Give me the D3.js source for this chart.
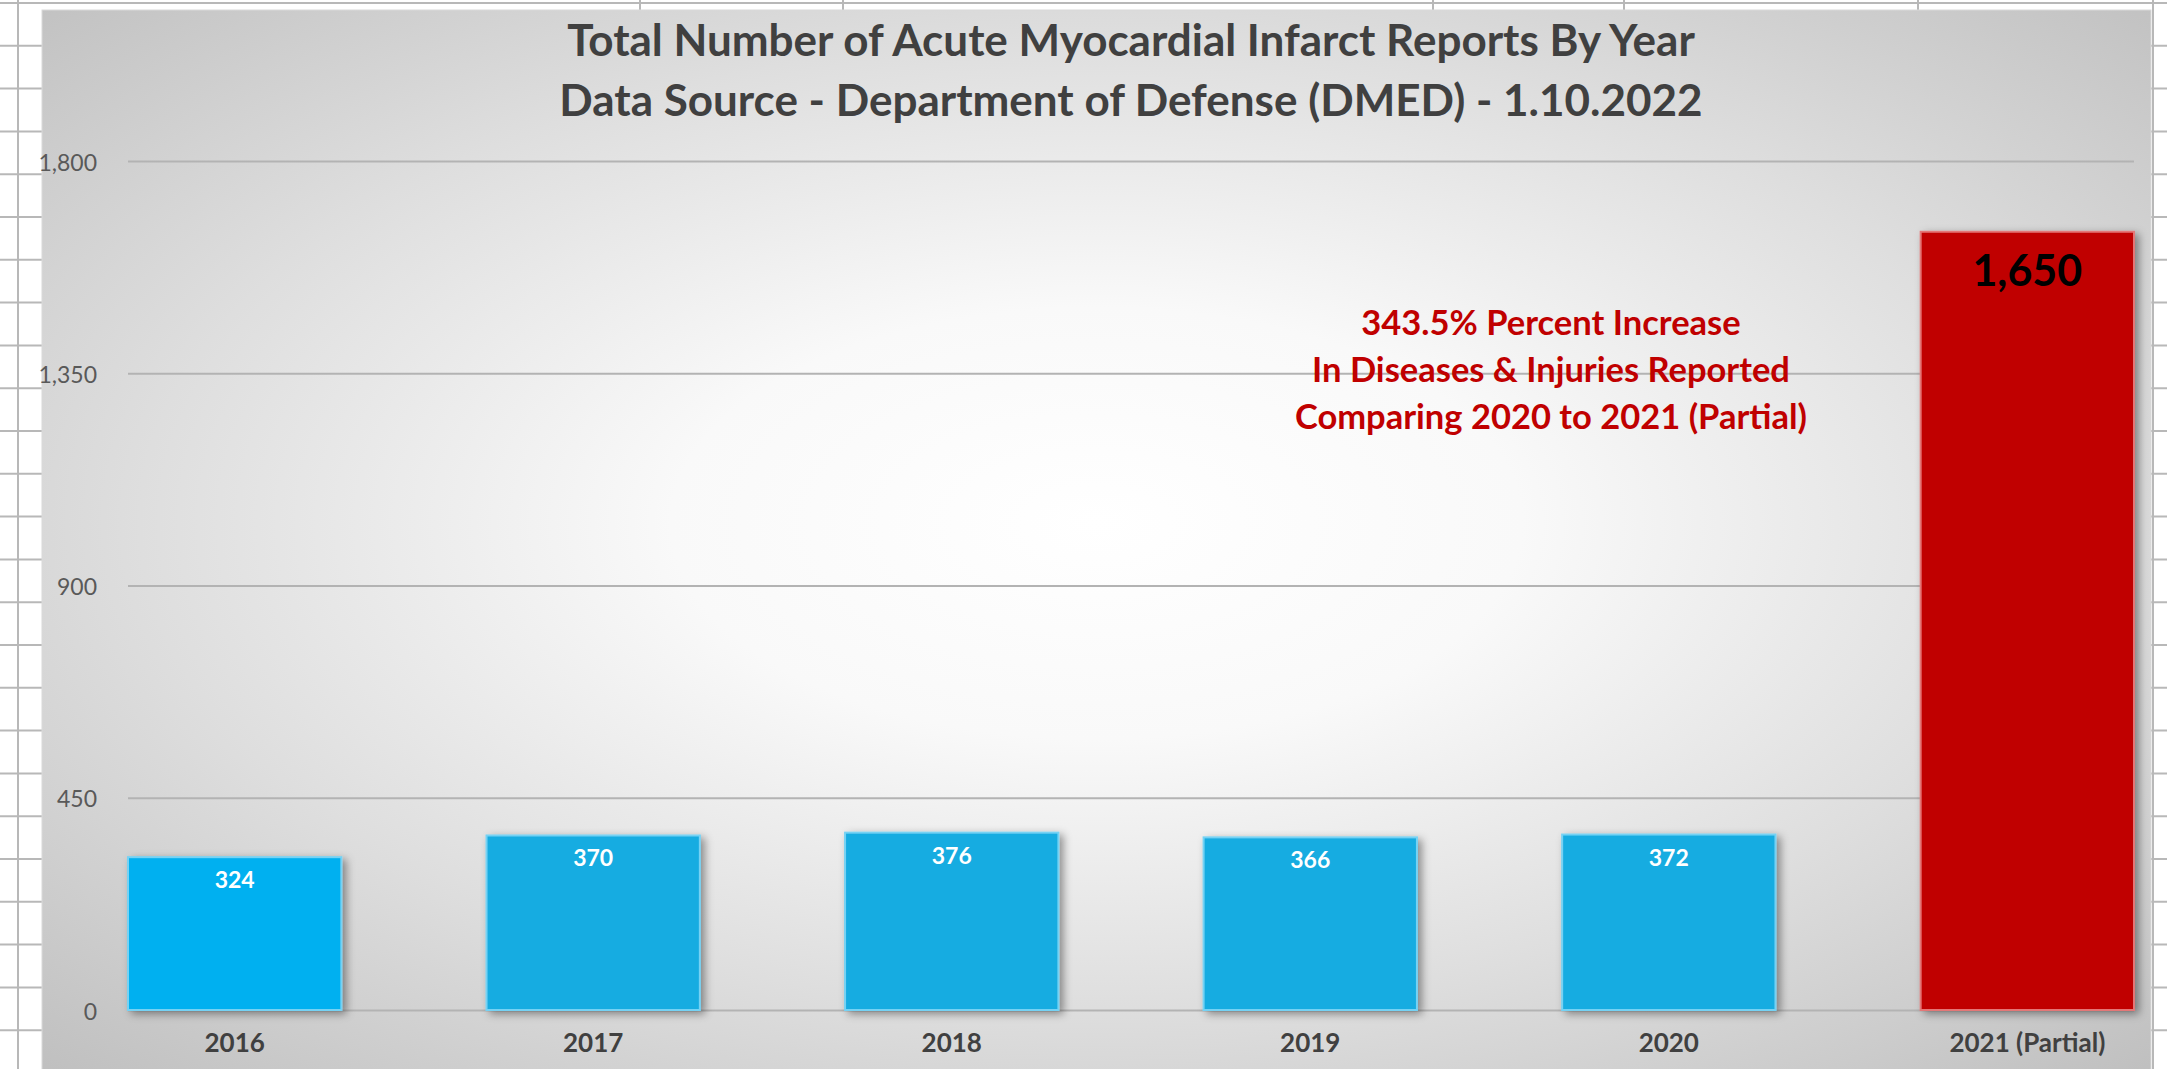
<!DOCTYPE html>
<html>
<head>
    <title>Total Number of Acute Myocardial Infarct Reports By Year</title>
    <script src="https://d3js.org/d3.v7.min.js"></script>
    <style>
        body { margin: 0; background: #ffffff; }
        svg { display: block; font-family: Lato, "Open Sans", sans-serif; }
        .title { fill: #404040; font-size: 44px; font-weight: bold; text-anchor: middle; }
        .note { fill: #C00000; font-size: 34.5px; font-weight: bold; text-anchor: middle; }
        .y-axis text { fill: #595959; font-size: 23px; }
        .cat-label { fill: #404040; font-size: 26px; font-weight: bold; text-anchor: middle; }
        .val-label { fill: #ffffff; font-size: 23px; font-weight: bold; text-anchor: middle; }
    </style>
</head>
<body>
    <svg id="chart"></svg>

    <script>
        // Data
        var years = ["2016", "2017", "2018", "2019", "2020", "2021 (Partial)"];
        var reports = [324, 370, 376, 366, 372, 1650];
        var yTicks = [0, 450, 900, 1350, 1800];
        var titleLines = [
            "Total Number of Acute Myocardial Infarct Reports By Year",
            "Data Source - Department of Defense (DMED) - 1.10.2022"
        ];
        var noteLines = [
            "343.5% Percent Increase",
            "In Diseases & Injuries Reported",
            "Comparing 2020 to 2021 (Partial)"
        ];

        // spreadsheet behind the chart
        var sheetCols = [18, 640, 843, 1433, 1624, 1918, 2153];
        var rowHeight = 42.8;

        var W = 2167, H = 1069;
        var plot = { left: 128, right: 2134, top: 161, bottom: 1010 };

        var svg = d3.select('#chart')
            .attr('width', W)
            .attr('height', H);

        var defs = svg.append('defs');

        // radial background like the Excel preset
        var grad = defs.append('radialGradient')
            .attr('id', 'bg')
            .attr('cx', 0.5).attr('cy', 0.48).attr('r', 0.72);
        grad.append('stop').attr('offset', 0).attr('stop-color', '#ffffff');
        grad.append('stop').attr('offset', 0.28).attr('stop-color', '#f9f9f9');
        grad.append('stop').attr('offset', 0.63).attr('stop-color', '#dedede');
        grad.append('stop').attr('offset', 1).attr('stop-color', '#bfbfbf');

        var shadow = defs.append('filter')
            .attr('id', 'shadow')
            .attr('x', '-10%').attr('y', '-10%')
            .attr('width', '130%').attr('height', '130%');
        shadow.append('feDropShadow')
            .attr('dx', 4).attr('dy', 3)
            .attr('stdDeviation', 4)
            .attr('flood-color', '#000')
            .attr('flood-opacity', 0.4);

        // sheet grid lines
        var grid = svg.append('g').attr('stroke', '#b8b8b8').attr('stroke-width', 2);
        grid.selectAll('.row')
            .data(d3.range(0, 26))
            .enter().append('line')
            .attr('x1', 0).attr('x2', W)
            .attr('y1', d => 3 + d * rowHeight)
            .attr('y2', d => 3 + d * rowHeight);
        grid.selectAll('.col')
            .data(sheetCols)
            .enter().append('line')
            .attr('x1', d => d).attr('x2', d => d)
            .attr('y1', 0).attr('y2', H);

        // chart area
        svg.append('rect')
            .attr('x', 42).attr('y', 10)
            .attr('width', 2151 - 42).attr('height', H)
            .attr('fill', 'url(#bg)')
            .attr('stroke', '#d9d9d9')
            .attr('stroke-width', 1);

        // scales
        var x = d3.scaleBand()
            .domain(years)
            .range([plot.left, plot.right])
            .paddingInner(0.405)
            .paddingOuter(0);

        var y = d3.scaleLinear()
            .domain([0, 1800])
            .range([plot.bottom, plot.top]);

        // y axis + gridlines
        var yAxis = svg.append('g')
            .attr('class', 'y-axis')
            .attr('transform', 'translate(' + plot.left + ',0)')
            .call(d3.axisLeft(y)
                .tickValues(yTicks)
                .tickFormat(d3.format(','))
                .tickSizeInner(-(plot.right - plot.left))
                .tickSizeOuter(0)
                .tickPadding(31));
        yAxis.select('.domain').remove();
        yAxis.selectAll('line').attr('stroke', '#b3b3b3').attr('stroke-width', 2);
        yAxis.selectAll('text').attr('dy', '0.4em').style('font-family', 'Lato, sans-serif');

        // title
        svg.selectAll('.title')
            .data(titleLines)
            .enter().append('text')
            .attr('class', 'title')
            .attr('x', 1131)
            .attr('y', (d, i) => 56 + i * 60)
            .text(d => d);

        // bars
        var barColor = (d, i) => i === years.length - 1 ? '#C00000' : (i === 0 ? '#00B0F0' : '#19ACE1');
        var barStroke = (d, i) => i === years.length - 1 ? '#e47777' : '#74d2f4';

        svg.append('g')
            .selectAll('rect')
            .data(reports)
            .enter().append('rect')
            .attr('x', (d, i) => x(years[i]))
            .attr('y', d => y(d))
            .attr('width', x.bandwidth())
            .attr('height', d => y(0) - y(d))
            .attr('fill', barColor)
            .attr('stroke', barStroke)
            .attr('stroke-width', 2)
            .attr('filter', 'url(#shadow)');

        // baseline axis
        svg.append('line')
            .attr('x1', plot.left - 2).attr('x2', plot.right + 1)
            .attr('y1', y(0) + 1).attr('y2', y(0) + 1)
            .attr('stroke', '#404040')
            .attr('stroke-width', 4)
            .attr('filter', 'url(#shadow)');

        // value labels
        svg.selectAll('.val-label')
            .data(reports)
            .enter().append('text')
            .attr('class', 'val-label')
            .attr('x', (d, i) => x(years[i]) + x.bandwidth() / 2)
            .attr('y', (d, i) => y(d) + (i === years.length - 1 ? 54 : 31))
            .style('fill', (d, i) => i === years.length - 1 ? '#000000' : '#ffffff')
            .style('font-size', (d, i) => i === years.length - 1 ? '43px' : '23px')
            .text(d => d3.format(',')(d));

        // category labels
        svg.selectAll('.cat-label')
            .data(years)
            .enter().append('text')
            .attr('class', 'cat-label')
            .attr('x', d => x(d) + x.bandwidth() / 2)
            .attr('y', 1052)
            .text(d => d);

        // annotation
        svg.selectAll('.note')
            .data(noteLines)
            .enter().append('text')
            .attr('class', 'note')
            .attr('x', 1551)
            .attr('y', (d, i) => 335 + i * 47)
            .text(d => d);
    </script>
</body>
</html>
